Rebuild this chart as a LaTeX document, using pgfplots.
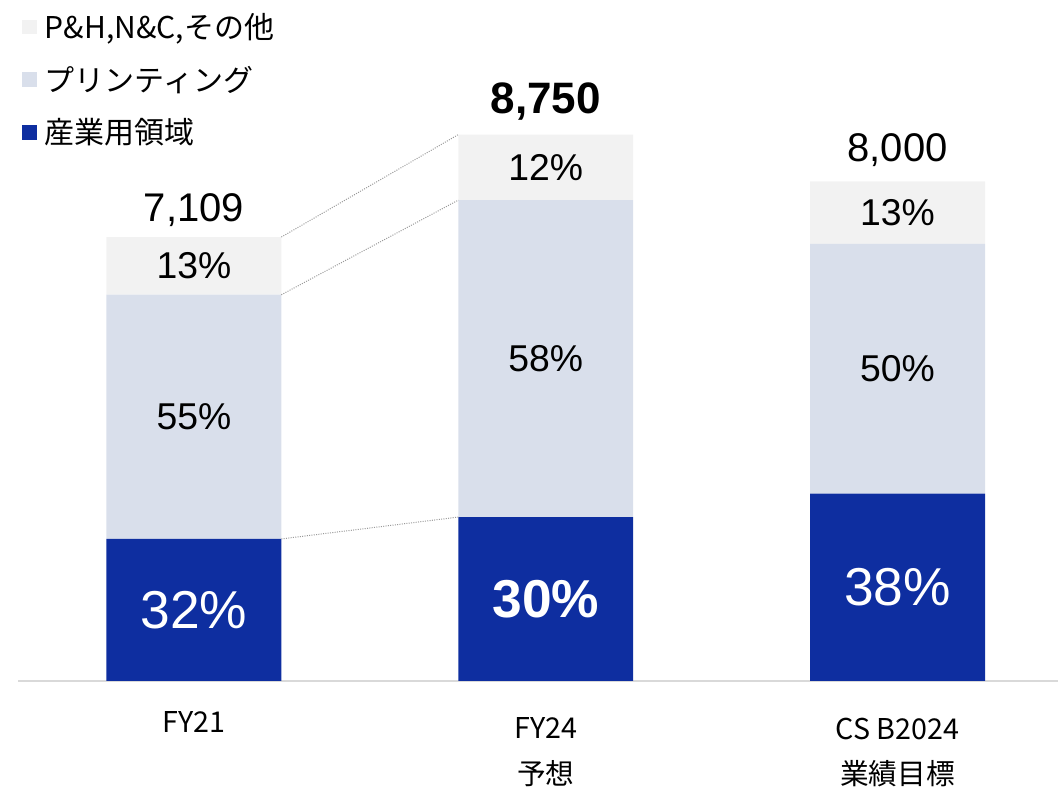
\documentclass[border=0pt]{standalone}
\usepackage{fontspec}
\setmainfont{Liberation Sans}
\newfontfamily\jp{Noto Sans CJK JP}
\usepackage{pgfplots}
\pgfplotsset{compat=1.18}
\definecolor{indblue}{HTML}{0E2EA0}
\definecolor{printc}{HTML}{D9DFEB}
\definecolor{otherc}{HTML}{F2F2F2}
\definecolor{axisc}{HTML}{D9D9D9}
\pgfplotsset{
  sq legend/.style={legend image code/.code={\fill[##1] (0pt,-5.5pt) rectangle (11pt,5.5pt); \path (15pt,0pt);}},
  common/.style={at={(0,0)}, anchor=south west, scale only axis, width=780pt, height=510.75pt,
    xmin=-0.5, xmax=2.456, ymin=0, ymax=10905, clip=false},
}
\begin{document}
\begin{tikzpicture}
\path[use as bounding box] (-13.5pt,-80.25pt) rectangle (780pt,510.75pt);
\begin{axis}[
  common,
  ybar stacked, bar width=0.497,
  axis x line*=bottom, axis y line=none,
  x axis line style={axisc, line width=1.5pt, -},
  xtick={0,1,2},
  xticklabels={{\raisebox{5pt}[\height][\depth]{FY21}},{FY24\\予想},{CS B2024\\業績目標}},
  xticklabel style={font=\jp\fontsize{21.5}{34}\selectfont, align=center, anchor=north, yshift=-24pt},
  major tick length=0pt,
  legend style={at={(axis description cs:0,1)}, anchor=north west, draw=none, fill=none,
    xshift=3pt, yshift=-8pt, font=\jp\fontsize{22.5}{27}\selectfont, row sep=15pt,
    inner sep=0pt, legend cell align=left},
  reverse legend,
]
\addplot[fill=indblue, draw=none, sq legend] coordinates {(0,2275) (1,2625) (2,3000)};
\addlegendentry{産業用領域}
\addplot[fill=printc, draw=none, sq legend] coordinates {(0,3910) (1,5075) (2,4000)};
\addlegendentry{プリンティング}
\addplot[fill=otherc, draw=none, sq legend] coordinates {(0,924) (1,1050) (2,1000)};
\addlegendentry{P\&H,N\&C,その他}
\end{axis}
\begin{axis}[common, hide axis]
\addplot[gray!80, densely dotted, line width=0.75pt] coordinates {(0.2485,7109) (0.7515,8750)};
\addplot[gray!80, densely dotted, line width=0.75pt] coordinates {(0.2485,6185) (0.7515,7700)};
\addplot[gray!80, densely dotted, line width=0.75pt] coordinates {(0.2485,2275) (0.7515,2625)};
\node[font=\fontsize{40}{46}\selectfont, text=white] at (axis cs:0,1137) {32\%};
\node[font=\bfseries\fontsize{40}{46}\selectfont, text=white] at (axis cs:1,1312) {30\%};
\node[font=\fontsize{40}{46}\selectfont, text=white] at (axis cs:2,1500) {38\%};
\node[font=\fontsize{28}{32}\selectfont] at (axis cs:0,4230) {55\%};
\node[font=\fontsize{28}{32}\selectfont] at (axis cs:1,5162) {58\%};
\node[font=\fontsize{28}{32}\selectfont] at (axis cs:2,5000) {50\%};
\node[font=\fontsize{28}{32}\selectfont] at (axis cs:0,6647) {13\%};
\node[font=\fontsize{28}{32}\selectfont] at (axis cs:1,8225) {12\%};
\node[font=\fontsize{28}{32}\selectfont] at (axis cs:2,7500) {13\%};
\node[font=\fontsize{30}{34}\selectfont, anchor=base, yshift=12pt] at (axis cs:0,7109) {7,109};
\node[font=\bfseries\fontsize{33}{38}\selectfont, anchor=base, yshift=16pt] at (axis cs:1,8750) {8,750};
\node[font=\fontsize{30}{34}\selectfont, anchor=base, yshift=15pt] at (axis cs:2,8000) {8,000};
\end{axis}
\end{tikzpicture}
\end{document}
